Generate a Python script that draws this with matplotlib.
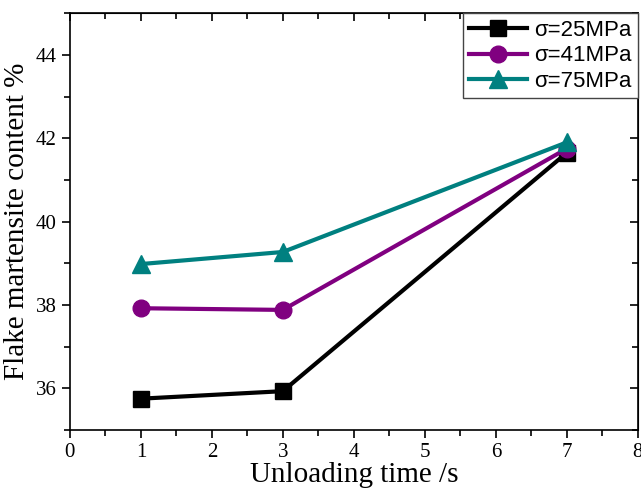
import numpy as np
import matplotlib.pyplot as plt
from matplotlib.ticker import MultipleLocator

# unloading time (s) and flake martensite content (%)
times = [1, 3, 7]
s25 = [35.75, 35.93, 41.65]
s41 = [37.92, 37.88, 41.75]
s75 = [38.98, 39.27, 41.9]

labels = ['σ=25MPa', 'σ=41MPa', 'σ=75MPa']

fig = plt.figure(figsize=(6.41, 4.88), dpi=100)
ax = fig.add_axes([0.109, 0.119, 0.886, 0.854])

ax.plot(times, s25, '-s', color='black', lw=3, ms=11, label=labels[0])
ax.plot(times, s41, '-o', color='#800080', lw=3, ms=12, label=labels[1])
ax.plot(times, s75, '-^', color='#008080', lw=3, ms=13, label=labels[2])

ax.set_xlim(0, 8)
ax.set_ylim(35, 45)
ax.xaxis.set_major_locator(MultipleLocator(1))
ax.xaxis.set_minor_locator(MultipleLocator(0.5))
ax.yaxis.set_major_locator(MultipleLocator(2))
ax.yaxis.set_minor_locator(MultipleLocator(1))
ax.set_yticks([36, 38, 40, 42, 44])

ax.tick_params(which='both', direction='out', top=False, right=False,
               width=1.2, labelsize=15)
ax.tick_params(which='major', length=6)
ax.tick_params(which='minor', length=4)
for lab in ax.get_xticklabels() + ax.get_yticklabels():
    lab.set_fontfamily('Liberation Serif')

# inward ticks on top and right, like Origin
sec_x = ax.secondary_xaxis('top')
sec_x.xaxis.set_major_locator(MultipleLocator(1))
sec_x.xaxis.set_minor_locator(MultipleLocator(0.5))
sec_x.tick_params(which='both', direction='in', labeltop=False, width=1.2)
sec_x.tick_params(which='major', length=6)
sec_x.tick_params(which='minor', length=4)
sec_y = ax.secondary_yaxis('right')
sec_y.set_yticks([36, 38, 40, 42, 44])
sec_y.yaxis.set_minor_locator(MultipleLocator(1))
sec_y.tick_params(which='both', direction='in', labelright=False, width=1.2)
sec_y.tick_params(which='major', length=6)
sec_y.tick_params(which='minor', length=4)

for sp in ax.spines.values():
    sp.set_linewidth(1.2)

ax.set_xlabel('Unloading time /s', fontfamily='Liberation Serif', fontsize=21, labelpad=0)
ax.set_ylabel('Flake martensite content %', fontfamily='Liberation Serif', fontsize=21, labelpad=4)

leg = ax.legend(loc='upper right', borderaxespad=0, fancybox=False,
                prop={'family': 'Liberation Sans', 'size': 16},
                handlelength=2.6, handletextpad=0.3, labelspacing=0.2,
                borderpad=0.3)
leg.get_frame().set_edgecolor('#444444')
leg.get_frame().set_linewidth(1.0)
leg.get_frame().set_alpha(1)

fig.savefig('out.png', dpi=100)
